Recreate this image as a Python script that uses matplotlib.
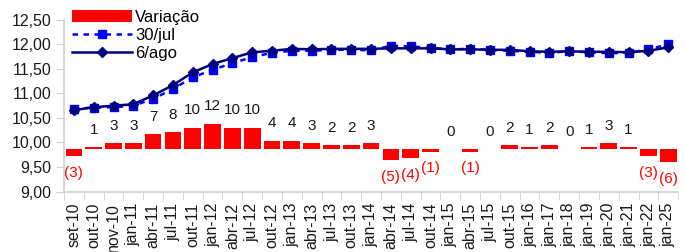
# -*- coding: utf-8 -*-

import numpy as np
import matplotlib.pyplot as plt
from matplotlib.ticker import FuncFormatter, MultipleLocator, FixedLocator

# -----------------------------
# Data
# -----------------------------
categorias = ["set-10", "out-10", "nov-10", "jan-11", "abr-11", "jul-11", "out-11",
              "jan-12", "abr-12", "jul-12", "out-12", "jan-13", "abr-13", "jul-13",
              "out-13", "jan-14", "abr-14", "jul-14", "out-14", "jan-15", "abr-15",
              "jul-15", "out-15", "jan-16", "jan-17", "jan-18", "jan-19", "jan-20",
              "jan-21", "jan-22", "jan-25"]

variacao = [-3, 1, 3, 3, 7, 8, 10, 12, 10, 10, 4, 4, 3, 2, 2, 3,
            -5, -4, -1, 0, -1, 0, 2, 1, 2, 0, 1, 3, 1, -3, -6]

curva_30jul = [10.69, 10.71, 10.72, 10.75, 10.89, 11.09, 11.33, 11.48, 11.62, 11.74,
               11.83, 11.87, 11.87, 11.89, 11.89, 11.88, 11.97, 11.96, 11.93, 11.90,
               11.91, 11.89, 11.87, 11.85, 11.83, 11.86, 11.84, 11.82, 11.83, 11.90,
               12.00]

curva_6ago = [10.66, 10.72, 10.75, 10.78, 10.96, 11.17, 11.43, 11.60, 11.72, 11.84,
              11.87, 11.91, 11.90, 11.91, 11.91, 11.91, 11.92, 11.92, 11.92, 11.90,
              11.90, 11.89, 11.89, 11.86, 11.85, 11.86, 11.85, 11.85, 11.84, 11.87,
              11.94]

# -----------------------------
# Style
# -----------------------------
plt.rcParams["font.family"] = ["Liberation Sans", "DejaVu Sans"]
GRAY = "#d0d0d0"
TXT = "#1a1a1a"

fig = plt.figure(figsize=(6.85, 2.52), dpi=100)
ax = fig.add_axes([0.0934, 0.240, 0.8966, 0.681])
ax2 = ax.twinx()

x = np.arange(len(categorias))

# bars on the hidden secondary axis (baseline ~9.86 on the main scale)
bars = ax2.bar(x, variacao, width=0.84, color="#ff0000", label="Variação", zorder=2)
ax2.set_ylim(-19.5, 60.0)
ax2.set_yticks([])
for s in ax2.spines.values():
    s.set_visible(False)

for xi, v in zip(x, variacao):
    if v < 0:
        ax2.annotate(f"({abs(v)})", (xi, v), xytext=(0, -12), textcoords="offset points",
                     ha="center", va="center", fontsize=11, color="#ff0000")
    else:
        ax2.annotate(f"{v}", (xi, v), xytext=(0, 12.5), textcoords="offset points",
                     ha="center", va="center", fontsize=11, color=TXT)

# lines on main axis
ax.set_zorder(ax2.get_zorder() + 1)
ax.patch.set_visible(False)
l1, = ax.plot(x, curva_30jul, color="#0000ff", linestyle=(0, (2.2, 2.2)), linewidth=1.8,
              marker="s", markersize=6, label="30/jul", zorder=3)
l2, = ax.plot(x, curva_6ago, color="#000080", linestyle="-", linewidth=1.8,
              marker="D", markersize=5, label="6/ago", zorder=4)

ax.set_ylim(9.0, 12.5)
ax.set_xlim(-0.5, len(categorias) - 0.5)
ax.yaxis.set_major_locator(MultipleLocator(0.5))
ax.yaxis.set_major_formatter(FuncFormatter(lambda v, p: f"{v:.2f}".replace(".", ",")))
ax.tick_params(axis="y", length=6, color=GRAY, labelsize=11.5, labelcolor=TXT, pad=3)

ax.set_xticks(x)
ax.set_xticklabels(categorias, rotation=90, fontsize=11.5, color=TXT)
ax.xaxis.set_minor_locator(FixedLocator(np.arange(-0.5, len(categorias), 1.0)))
ax.tick_params(axis="x", which="major", length=0, pad=8)
ax.tick_params(axis="x", which="minor", length=6, color=GRAY)

for side in ["top", "right"]:
    ax.spines[side].set_visible(False)
for side in ["left", "bottom"]:
    ax.spines[side].set_color(GRAY)
    ax.spines[side].set_linewidth(1.2)

fig.legend(handles=[bars, l1, l2], loc="upper left", bbox_to_anchor=(0.088, 1.008),
           frameon=False, fontsize=12, handlelength=3.6, handleheight=0.7,
           handletextpad=0.2, labelspacing=0.2, borderpad=0.2)

fig.savefig("out.png", dpi=100)
